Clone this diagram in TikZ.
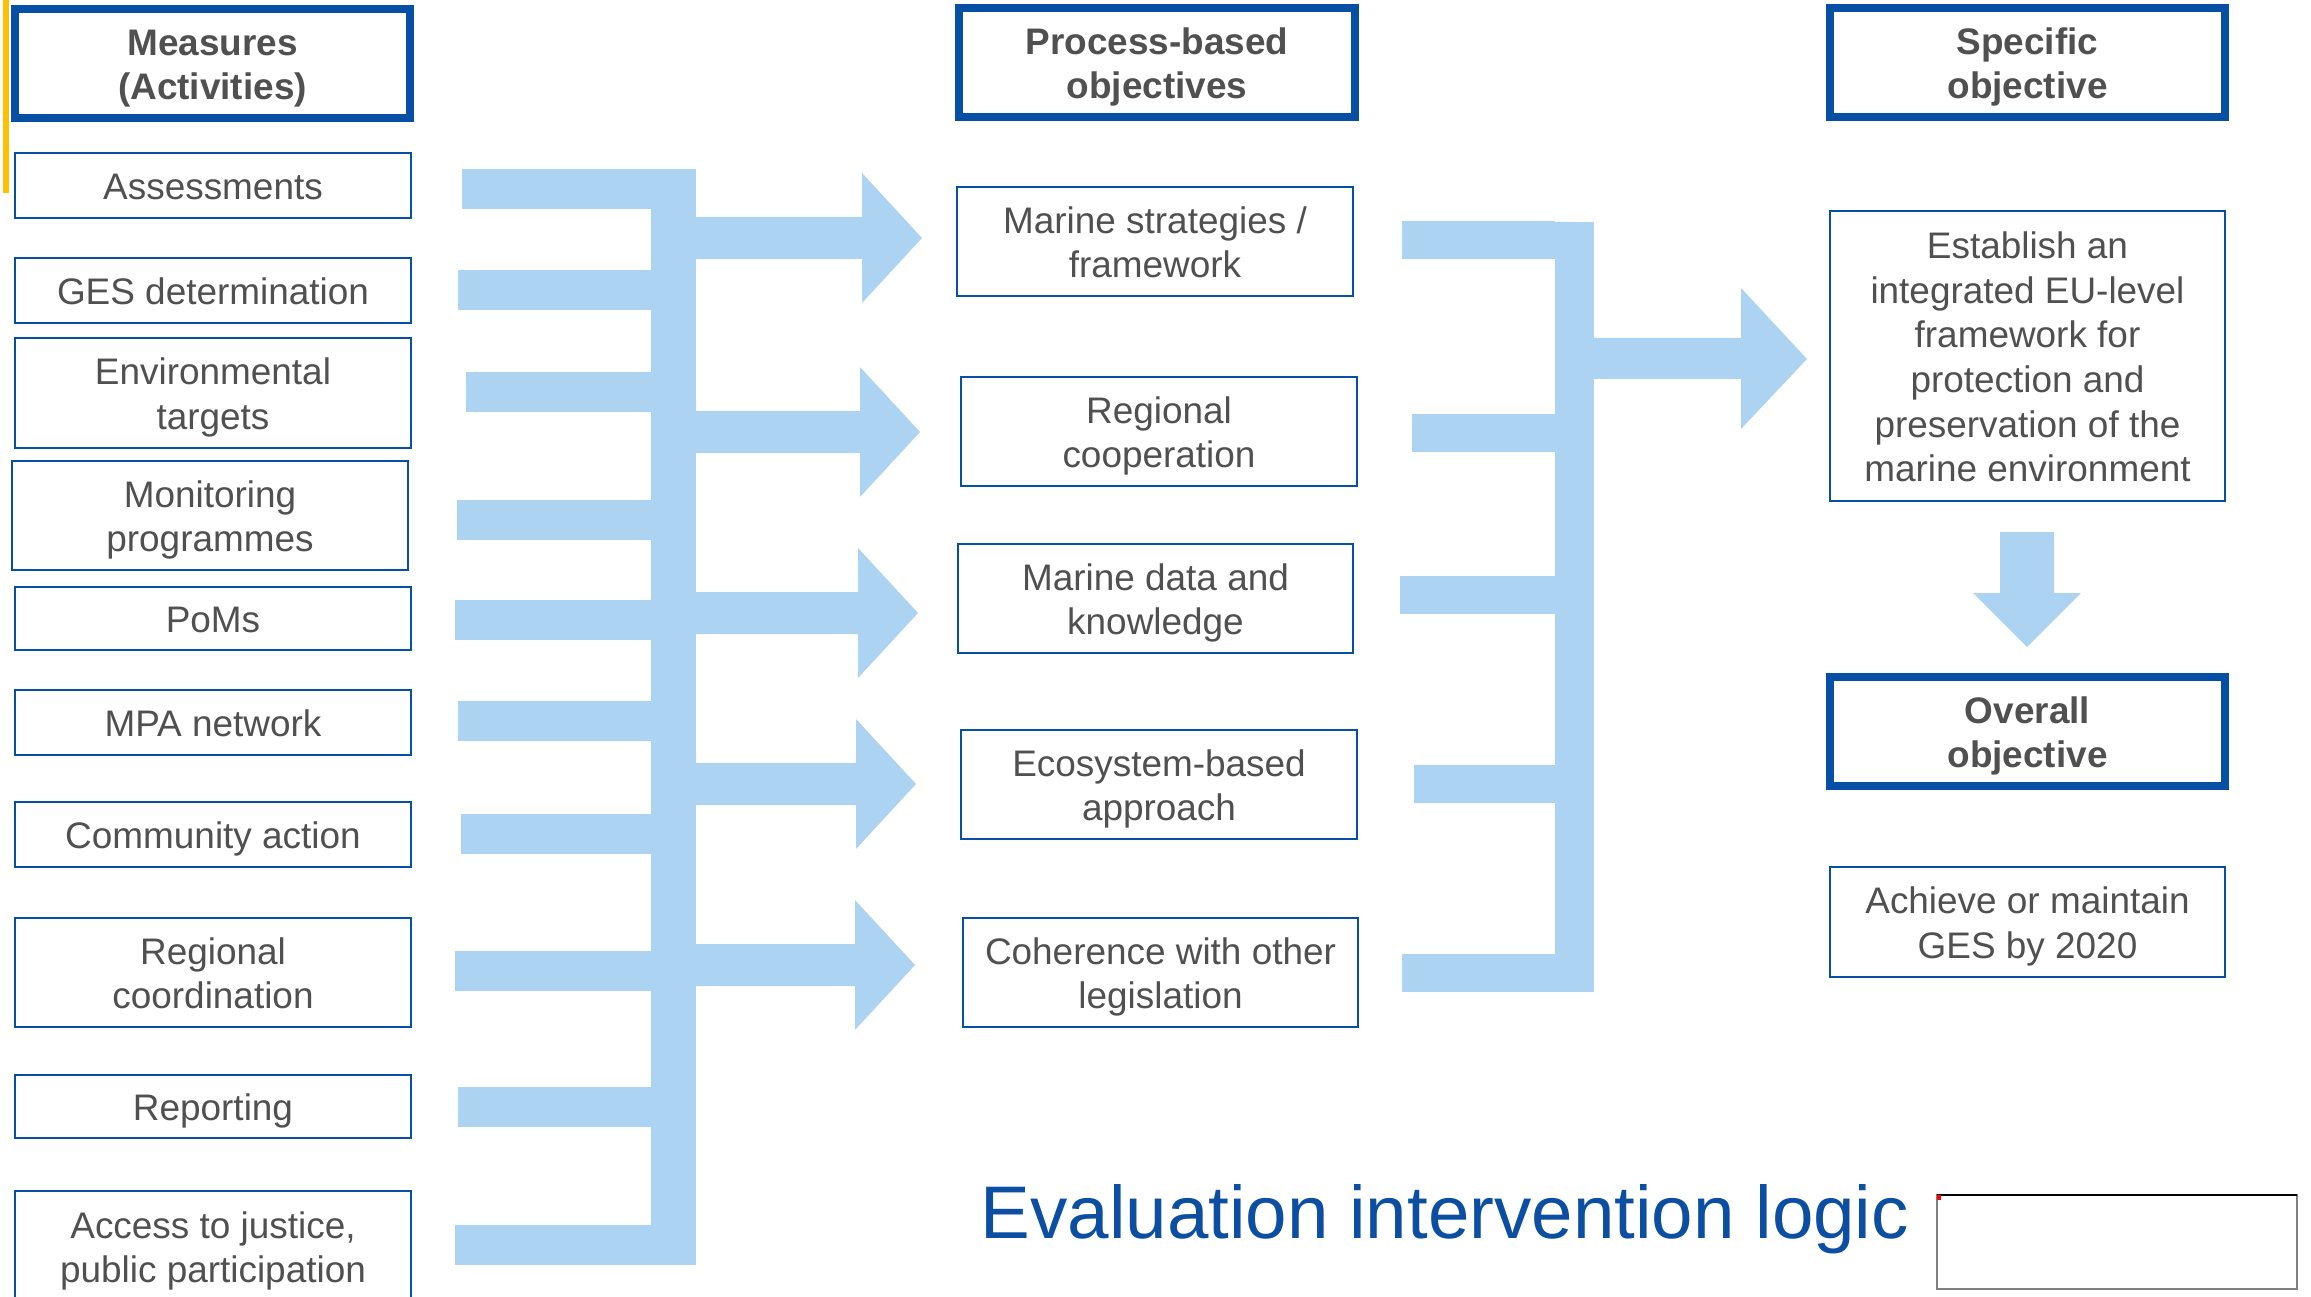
\documentclass[tikz,border=0pt]{standalone}
\usepackage{fontspec}
\setmainfont{Liberation Sans}
\usepackage{tikz}

\definecolor{boxblue}{RGB}{5,80,164}
\definecolor{arrowblue}{RGB}{173,211,242}
\definecolor{txtgray}{RGB}{80,80,80}
\definecolor{titleblue}{RGB}{11,78,162}
\definecolor{markyellow}{RGB}{255,192,0}

% struts round the lines of a box, so that all boxes set their text alike
\newcommand{\boxlines}[1]{\rule{0pt}{10.1pt}#1\rule[-2.1pt]{0pt}{2.1pt}}

\tikzset{
  item/.style={draw=boxblue, line width=0.6pt, fill=white, text=txtgray,
    align=center, inner sep=0pt, minimum width=3.95cm,
    font=\fontsize{10.5}{12.7}\selectfont},
  header/.style={item, line width=2.3pt, minimum height=1.09cm,
    font=\bfseries\fontsize{10.5}{12.6}\selectfont}
}

\begin{document}
\begin{tikzpicture}[x=0.01cm, y=-0.01cm]

  \useasboundingbox (0,0) rectangle (2311,1297);

  % Yellow mark at the top left edge
  \fill[markyellow] (3,0) rectangle (9,193);

  % Left block arrow: stubs from the measures into one bar
  \foreach \y/\x in {189/462, 290/458, 392/466, 520/457, 620/455,
                     721/458, 834/461, 971/455, 1107/458, 1245/455}
    \fill[arrowblue] (\x,\y-20) rectangle (651,\y+20);
  \fill[arrowblue] (651,169) rectangle (696,1265);

  % Arrows towards the process-based objectives
  \foreach \y/\b in {238/862, 432/860, 613/858, 784/856, 965/855}
    \fill[arrowblue] (696,\y-21) -- (\b,\y-21) -- (\b,\y-65) -- (\b+60,\y)
      -- (\b,\y+65) -- (\b,\y+21) -- (696,\y+21) -- cycle;

  % Right block arrow: stubs from the objectives into one bar
  \foreach \y/\x in {240/1402, 433/1412, 595/1400, 784/1414, 973/1402}
    \fill[arrowblue] (\x,\y-19) rectangle (1555,\y+19);
  \fill[arrowblue] (1555,222) rectangle (1594,992);
  \fill[arrowblue] (1594,338) -- (1741,338) -- (1741,288) -- (1807,359)
    -- (1741,429) -- (1741,379) -- (1594,379) -- cycle;

  % Down arrow from specific to overall objective
  \fill[arrowblue] (2000,532) -- (2054,532) -- (2054,593) -- (2081,593)
    -- (2027,647) -- (1973,593) -- (2000,593) -- cycle;

  % Column headers
  \node[header] (measures) at (212.5,63.5) {\boxlines{Measures\\(Activities)}};
  \node[header] (process) at (1157,62.5) {\boxlines{Process-based\\objectives}};
  \node[header] (specific) at (2027.5,62.5) {\boxlines{Specific\\objective}};

  % Measures (activities)
  \node[item, minimum height=0.65cm] (assess) at (213,185.5) {\boxlines{Assessments}};
  \node[item, minimum height=0.65cm] (ges) at (213,290.5) {\boxlines{GES determination}};
  \node[item, minimum height=1.1cm] (envtarget) at (213,393) {\boxlines{Environmental\\targets}};
  \node[item, minimum height=1.09cm] (monitor) at (210,515.5) {\boxlines{Monitoring\\programmes}};
  \node[item, minimum height=0.63cm] (poms) at (213,618.5) {\boxlines{PoMs}};
  \node[item, minimum height=0.65cm] (mpa) at (213,722.5) {\boxlines{MPA network}};
  \node[item, minimum height=0.65cm] (community) at (213,834.5) {\boxlines{Community action}};
  \node[item, minimum height=1.09cm] (regcoord) at (213,972.5) {\boxlines{Regional\\coordination}};
  \node[item, minimum height=0.63cm] (reporting) at (213,1106.5) {\boxlines{Reporting}};
  \node[item, minimum height=1.11cm] (justice) at (213,1246.5) {\boxlines{Access to justice,\\public participation}};

  % Process-based objectives
  \node[item, minimum height=1.09cm] (strategy) at (1155,241.5) {\boxlines{Marine strategies /\\framework}};
  \node[item, minimum height=1.09cm] (regcoop) at (1159,431.5) {\boxlines{Regional\\cooperation}};
  \node[item, minimum height=1.09cm] (data) at (1155.5,598.5) {\boxlines{Marine data and\\knowledge}};
  \node[item, minimum height=1.09cm] (ecosystem) at (1159,784.5) {\boxlines{Ecosystem-based\\approach}};
  \node[item, minimum height=1.09cm] (coherence) at (1160.5,972.5) {\boxlines{Coherence with other\\legislation}};

  % Specific and overall objective
  \node[item, minimum height=2.9cm] (establish) at (2027.5,356)
    {\boxlines{Establish an\\integrated EU-level\\framework for\\protection and\\preservation of the\\marine environment}};
  \node[header] (overall) at (2027.5,731.5) {\boxlines{Overall\\objective}};
  \node[item, minimum height=1.1cm] (achieve) at (2027.5,922) {\boxlines{Achieve or maintain\\GES by 2020}};

  % Title
  \node[anchor=base west, inner sep=0pt, text=titleblue,
    font=\fontsize{21.2}{25}\selectfont] (title) at (980,1238)
    {Evaluation intervention logic};

  % Empty frame at the bottom right
  \draw[gray, line width=0.6pt] (1937,1195) rectangle (2297,1289);
  \draw[black, line width=0.6pt] (1937,1195) -- (2297,1195);
  \fill[red] (1937,1195) rectangle (1941,1200);

\end{tikzpicture}
\end{document}
